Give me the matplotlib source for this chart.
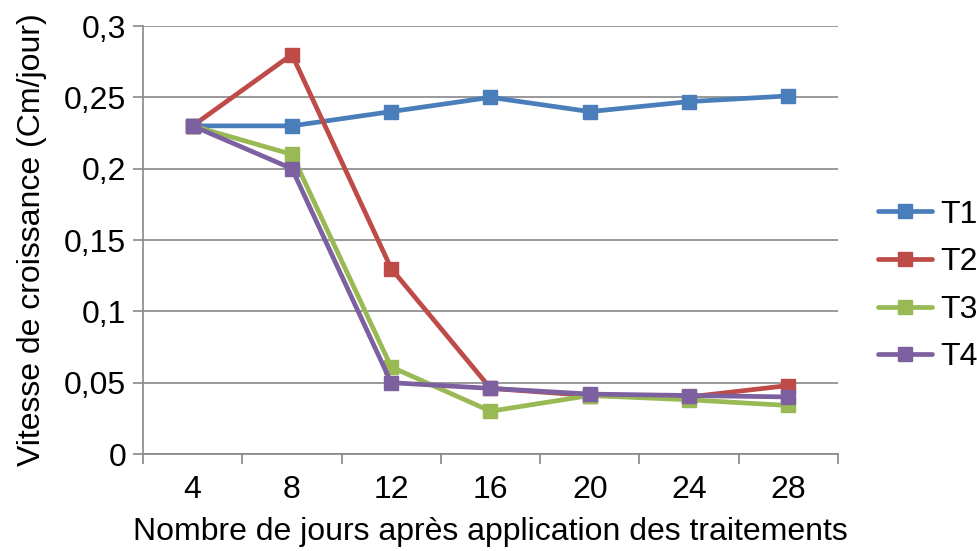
import matplotlib
matplotlib.use("Agg")
import matplotlib.pyplot as plt
import numpy as np

plt.rcParams['font.family'] = ['Liberation Sans', 'DejaVu Sans']

days = ["4", "8", "12", "16", "20", "24", "28"]
t1 = [0.23, 0.23, 0.24, 0.25, 0.24, 0.247, 0.251]
t2 = [0.23, 0.28, 0.13, 0.046, 0.041, 0.040, 0.048]
t3 = [0.23, 0.21, 0.061, 0.030, 0.041, 0.038, 0.034]
t4 = [0.23, 0.20, 0.050, 0.046, 0.042, 0.041, 0.040]
series = [("T1", t1, "#4a7ebb"), ("T2", t2, "#be4b48"),
          ("T3", t3, "#98b954"), ("T4", t4, "#7d60a0")]
yticks = [0, 0.05, 0.1, 0.15, 0.2, 0.25, 0.3]
ytick_labels = ["0", "0,05", "0,1", "0,15", "0,2", "0,25", "0,3"]

FS = 23
fig = plt.figure(figsize=(9.78, 5.51), dpi=100)
ax = fig.add_axes([143/978, 1-454/551, (838-143)/978, (454-26)/551])
x = np.arange(len(days))
for name, vals, col in series:
    ax.plot(x, vals, color=col, lw=3.4, marker='s', markersize=10.5, label=name,
            solid_capstyle='round')

ax.set_xlim(-0.5, len(days)-0.5)
ax.set_ylim(0, 0.3)
ax.set_yticks(yticks)
ax.set_yticklabels(ytick_labels, fontsize=FS)
ax.set_xticks(x)
ax.set_xticklabels(days, fontsize=FS)
ax.set_xticks(np.arange(-0.5, len(days), 1), minor=True)
ax.tick_params(axis='x', which='major', length=0, pad=15)
ax.tick_params(axis='x', which='minor', length=7, color='#888888', width=1.2)
ax.tick_params(axis='y', length=7, color='#888888', width=1.2, pad=5)
ax.grid(axis='y', color='#888888', lw=1.2)
ax.set_axisbelow(True)
for s in ['top', 'right']:
    ax.spines[s].set_visible(False)
for s in ['left', 'bottom']:
    ax.spines[s].set_color('#888888')
    ax.spines[s].set_linewidth(1.2)
ax.set_xlabel("Nombre de jours après application des traitements", fontsize=FS, labelpad=9)
ax.set_ylabel("Vitesse de croissance (Cm/jour)", fontsize=FS, labelpad=12)

fig.legend(loc='center left', bbox_to_anchor=(878/978, 1-286/551), frameon=False,
           fontsize=FS, handlelength=1.7, labelspacing=0.55, handletextpad=0.25,
           borderaxespad=0, borderpad=0)
fig.savefig("out.png", dpi=100)
